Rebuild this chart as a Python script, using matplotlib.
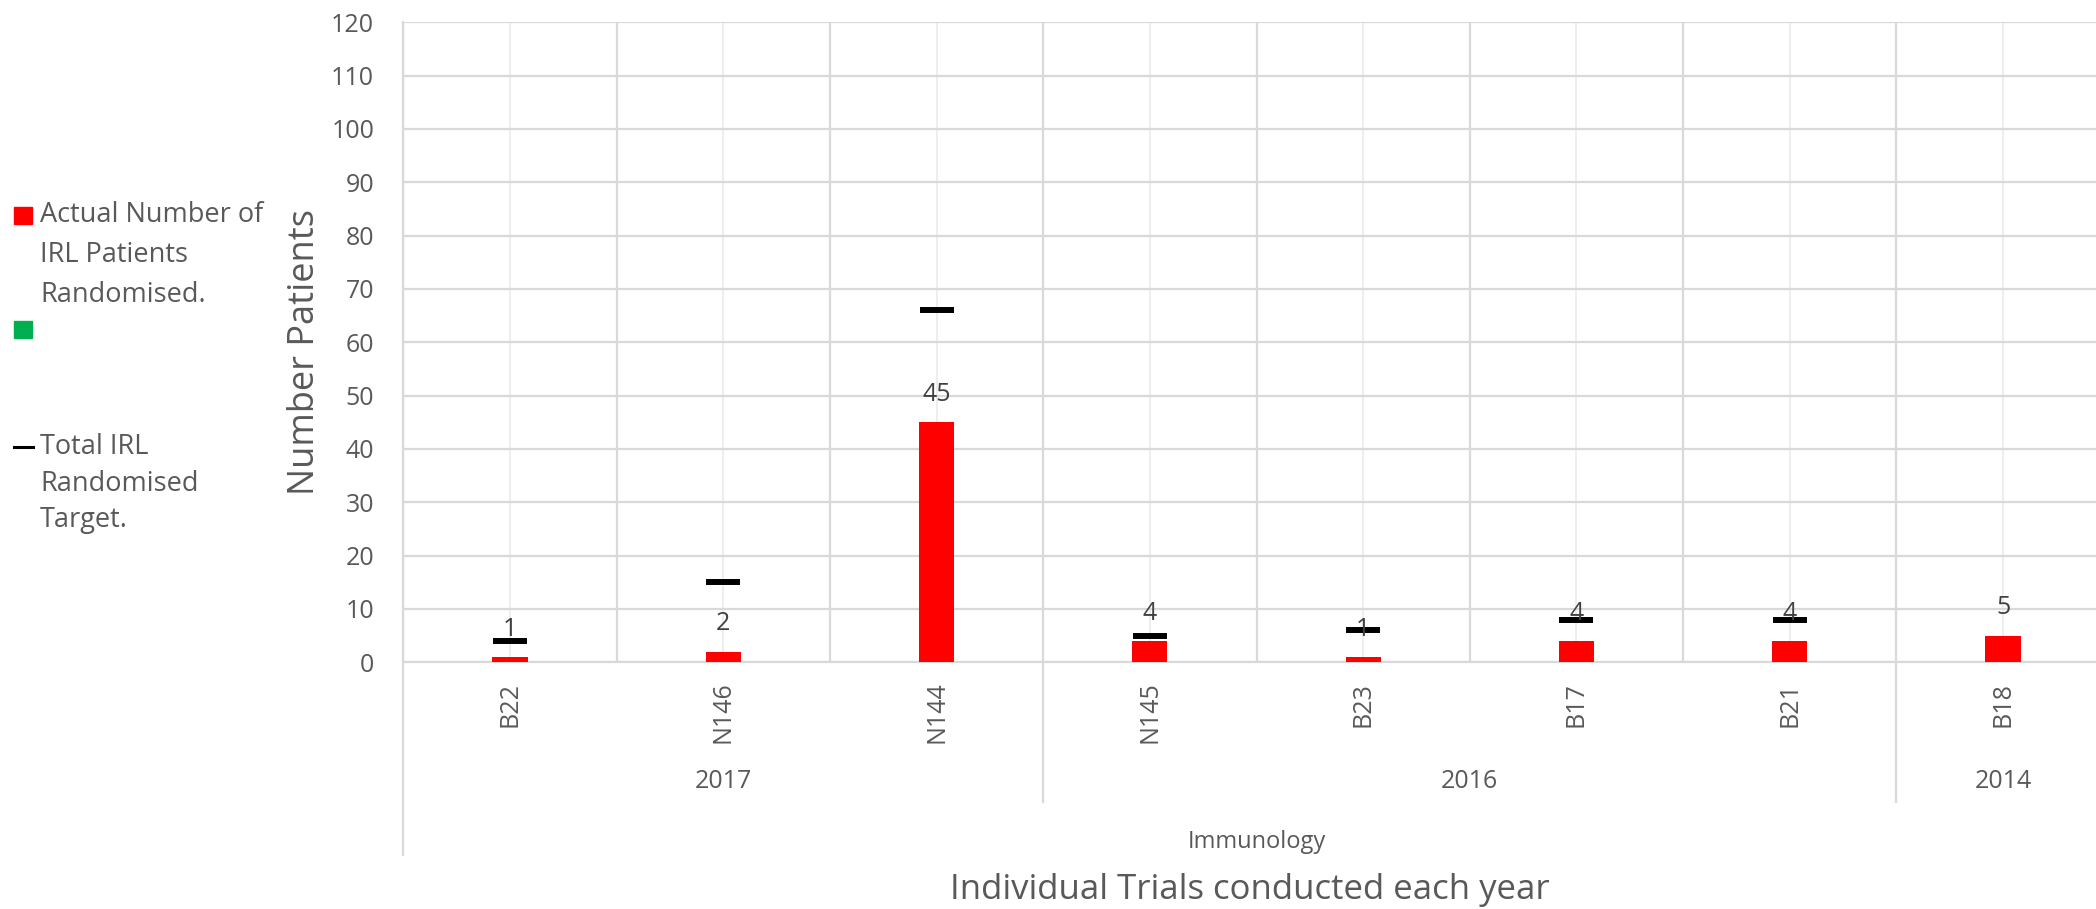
import numpy as np
import matplotlib
matplotlib.use("Agg")
import matplotlib.pyplot as plt
from matplotlib.patches import Rectangle
from matplotlib.lines import Line2D
import matplotlib.transforms as mtransforms

plt.rcParams['font.family'] = ['Open Sans', 'DejaVu Sans']

# data
trials = ['B22', 'N146', 'N144', 'N145', 'B23', 'B17', 'B21', 'B18']
years = ['2017', '2017', '2017', '2016', '2016', '2016', '2016', '2014']
actual = [1, 2, 45, 4, 1, 4, 4, 5]
target = [4, 15, 66, 5, 6, 8, 8, np.nan]
group_name = 'Immunology'

W, H = 2096, 909
grey_txt = '#595959'
grid_dark = '#d9d9d9'
grid_light = '#eeeeee'

fig = plt.figure(figsize=(W / 100, H / 100), dpi=100)

# axes placed in pixels: left 403, bottom axis line 662, top 22, 213 px per category
left_px, top_px, bot_px, cat_w = 403.3, 22.3, 662.3, 213.3
ax = fig.add_axes([left_px / W, (H - bot_px) / H, len(trials) * cat_w / W, (bot_px - top_px) / H])

x = np.arange(len(trials))
ax.bar(x, actual, width=0.165, color='#ff0000', zorder=3)
ax.plot(x, target, ls='none', marker='_', ms=25, mew=4.3, color='black', zorder=4)

for xi, v in zip(x, actual):
    ax.annotate(str(v), (xi, v), xytext=(0, 20), textcoords='offset points',
                ha='center', va='center', fontsize=18, color='#404040', zorder=5)

ax.set_xlim(-0.5, len(trials) - 0.5)
ax.set_ylim(0, 120)
ax.set_yticks(np.arange(0, 121, 10))
ax.set_xticks(x)
ax.set_xticks(np.arange(-0.5, len(trials), 1), minor=True)
ax.set_xticklabels(trials, rotation=90, fontsize=18, color=grey_txt)
ax.tick_params(axis='x', which='both', length=0, pad=14)
ax.tick_params(axis='y', length=0, pad=21, labelsize=18, labelcolor=grey_txt)

ax.grid(axis='y', color=grid_dark, lw=1.6, zorder=0)
ax.grid(axis='x', which='major', color=grid_light, lw=1.4, zorder=0)
ax.grid(axis='x', which='minor', color=grid_dark, lw=1.6, zorder=0)
ax.set_axisbelow(True)
for s in ['top', 'right']:
    ax.spines[s].set_visible(False)
for s in ['left', 'bottom']:
    ax.spines[s].set_color(grid_dark)
    ax.spines[s].set_linewidth(1.6)

# multi-level category axis below the plot
trans = mtransforms.blended_transform_factory(ax.transData, ax.transAxes)
plot_h = bot_px - top_px
def yfrac(ypx):
    return (bot_px - ypx) / plot_h

ax.plot([-0.5, -0.5], [0, yfrac(855)], transform=trans, color=grid_dark, lw=1.6, clip_on=False)
start = 0
for i in range(1, len(years) + 1):
    if i == len(years) or years[i] != years[start]:
        ax.text((start + i - 1) / 2, yfrac(782), years[start], transform=trans,
                ha='center', va='center', fontsize=18, color=grey_txt)
        if i < len(years):
            ax.plot([i - 0.5, i - 0.5], [0, yfrac(802)], transform=trans,
                    color=grid_dark, lw=1.6, clip_on=False)
        start = i
ax.text((len(trials) - 1) / 2, yfrac(842), group_name, transform=trans,
        ha='center', va='center', fontsize=17, color=grey_txt)

fig.text(1250 / W, 1 - 890 / H, 'Individual Trials conducted each year',
         ha='center', va='center', fontsize=25, color=grey_txt)
fig.text(305 / W, 1 - 352 / H, 'Number Patients', rotation=90,
         ha='center', va='center', fontsize=26, color=grey_txt)

# legend on the left
def fx(px):
    return px / W
def fy(py):
    return 1 - py / H

fig.add_artist(Rectangle((fx(14), fy(224)), 18 / W, 17 / H, color='#ff0000', transform=fig.transFigure))
fig.add_artist(Rectangle((fx(14), fy(338)), 18 / W, 17 / H, color='#00b050', transform=fig.transFigure))
fig.add_artist(Line2D([fx(14), fx(33)], [fy(447), fy(447)], color='black', lw=2.2, transform=fig.transFigure))

leg_lines = [('Actual Number of', 215), ('IRL Patients', 255), ('Randomised.', 295),
             ('Total IRL', 447), ('Randomised', 484), ('Target.', 520)]
for txt, ypx in leg_lines:
    fig.text(fx(40), fy(ypx), txt, ha='left', va='center', fontsize=19.5, color=grey_txt)

fig.savefig('out.png', dpi=100)
